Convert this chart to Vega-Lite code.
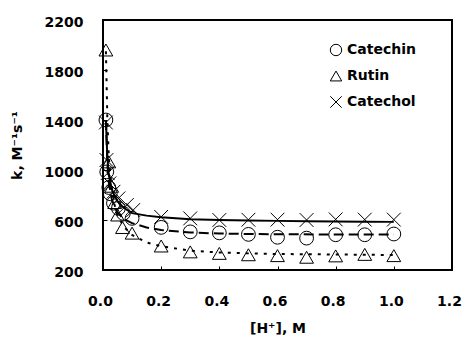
{
  "$schema": "https://vega.github.io/schema/vega-lite/v6.json",
  "autosize": "none",
  "width": 349,
  "height": 250,
  "padding": {"left": 103, "top": 20, "right": 11, "bottom": 69},
  "background": "white",
  "config": {
    "font": "DejaVu Sans",
    "view": {"stroke": "black", "strokeWidth": 2},
    "axis": {
      "domain": false,
      "grid": false,
      "labelFlush": false,
      "labelFont": "DejaVu Sans",
      "labelFontWeight": "bold",
      "labelFontSize": 14,
      "labelColor": "black",
      "titleFont": "DejaVu Sans",
      "titleFontWeight": "bold",
      "titleFontSize": 14,
      "titleColor": "black",
      "tickColor": "black",
      "tickSize": -4,
      "tickWidth": 1
    },
    "legend": {
      "labelFont": "DejaVu Sans",
      "labelFontWeight": "bold",
      "labelFontSize": 14,
      "labelColor": "black"
    }
  },
  "datasets": {
    "points": [
      {"series": "Catechin", "x": 0.01, "k": 1400},
      {"series": "Catechin", "x": 0.013, "k": 985},
      {"series": "Catechin", "x": 0.02, "k": 860},
      {"series": "Catechin", "x": 0.025, "k": 810},
      {"series": "Catechin", "x": 0.036, "k": 735},
      {"series": "Catechin", "x": 0.053, "k": 693},
      {"series": "Catechin", "x": 0.07, "k": 653},
      {"series": "Catechin", "x": 0.1, "k": 613},
      {"series": "Catechin", "x": 0.2, "k": 541},
      {"series": "Catechin", "x": 0.3, "k": 505},
      {"series": "Catechin", "x": 0.4, "k": 497},
      {"series": "Catechin", "x": 0.5, "k": 485},
      {"series": "Catechin", "x": 0.6, "k": 462},
      {"series": "Catechin", "x": 0.7, "k": 455},
      {"series": "Catechin", "x": 0.8, "k": 482},
      {"series": "Catechin", "x": 0.9, "k": 482},
      {"series": "Catechin", "x": 1.0, "k": 488},
      {"series": "Rutin", "x": 0.01, "k": 1960},
      {"series": "Rutin", "x": 0.02, "k": 1065},
      {"series": "Rutin", "x": 0.03, "k": 870},
      {"series": "Rutin", "x": 0.04, "k": 740},
      {"series": "Rutin", "x": 0.05, "k": 640},
      {"series": "Rutin", "x": 0.067, "k": 540},
      {"series": "Rutin", "x": 0.1, "k": 495},
      {"series": "Rutin", "x": 0.2, "k": 392},
      {"series": "Rutin", "x": 0.3, "k": 345},
      {"series": "Rutin", "x": 0.4, "k": 333},
      {"series": "Rutin", "x": 0.5, "k": 322},
      {"series": "Rutin", "x": 0.6, "k": 315},
      {"series": "Rutin", "x": 0.7, "k": 302},
      {"series": "Rutin", "x": 0.8, "k": 313},
      {"series": "Rutin", "x": 0.9, "k": 325},
      {"series": "Rutin", "x": 1.0, "k": 315},
      {"series": "Catechol", "x": 0.01, "k": 1380},
      {"series": "Catechol", "x": 0.012, "k": 1080},
      {"series": "Catechol", "x": 0.016, "k": 975},
      {"series": "Catechol", "x": 0.022, "k": 893},
      {"series": "Catechol", "x": 0.036, "k": 826},
      {"series": "Catechol", "x": 0.053, "k": 773},
      {"series": "Catechol", "x": 0.082, "k": 720},
      {"series": "Catechol", "x": 0.104, "k": 680},
      {"series": "Catechol", "x": 0.2, "k": 625},
      {"series": "Catechol", "x": 0.3, "k": 613},
      {"series": "Catechol", "x": 0.4, "k": 600},
      {"series": "Catechol", "x": 0.5, "k": 602},
      {"series": "Catechol", "x": 0.6, "k": 603},
      {"series": "Catechol", "x": 0.7, "k": 600},
      {"series": "Catechol", "x": 0.8, "k": 605},
      {"series": "Catechol", "x": 0.9, "k": 603},
      {"series": "Catechol", "x": 1.0, "k": 603}
    ],
    "fits": [
      {"series": "Catechin", "x": 0.01, "k": 1400},
      {"series": "Catechin", "x": 0.015, "k": 1050},
      {"series": "Catechin", "x": 0.02, "k": 900},
      {"series": "Catechin", "x": 0.03, "k": 770},
      {"series": "Catechin", "x": 0.04, "k": 700},
      {"series": "Catechin", "x": 0.05, "k": 660},
      {"series": "Catechin", "x": 0.07, "k": 610},
      {"series": "Catechin", "x": 0.1, "k": 575},
      {"series": "Catechin", "x": 0.15, "k": 540},
      {"series": "Catechin", "x": 0.2, "k": 520},
      {"series": "Catechin", "x": 0.3, "k": 500},
      {"series": "Catechin", "x": 0.4, "k": 492},
      {"series": "Catechin", "x": 0.5, "k": 488},
      {"series": "Catechin", "x": 0.6, "k": 486},
      {"series": "Catechin", "x": 0.8, "k": 484},
      {"series": "Catechin", "x": 1.0, "k": 483},
      {"series": "Rutin", "x": 0.01, "k": 1950},
      {"series": "Rutin", "x": 0.015, "k": 1400},
      {"series": "Rutin", "x": 0.02, "k": 1100},
      {"series": "Rutin", "x": 0.03, "k": 850},
      {"series": "Rutin", "x": 0.04, "k": 720},
      {"series": "Rutin", "x": 0.05, "k": 640},
      {"series": "Rutin", "x": 0.07, "k": 550},
      {"series": "Rutin", "x": 0.1, "k": 480},
      {"series": "Rutin", "x": 0.15, "k": 420},
      {"series": "Rutin", "x": 0.2, "k": 390},
      {"series": "Rutin", "x": 0.3, "k": 355},
      {"series": "Rutin", "x": 0.4, "k": 340},
      {"series": "Rutin", "x": 0.5, "k": 333},
      {"series": "Rutin", "x": 0.6, "k": 328},
      {"series": "Rutin", "x": 0.8, "k": 324},
      {"series": "Rutin", "x": 1.0, "k": 320},
      {"series": "Catechol", "x": 0.01, "k": 1400},
      {"series": "Catechol", "x": 0.015, "k": 1100},
      {"series": "Catechol", "x": 0.02, "k": 960},
      {"series": "Catechol", "x": 0.03, "k": 850},
      {"series": "Catechol", "x": 0.04, "k": 790},
      {"series": "Catechol", "x": 0.05, "k": 750},
      {"series": "Catechol", "x": 0.07, "k": 700},
      {"series": "Catechol", "x": 0.1, "k": 655},
      {"series": "Catechol", "x": 0.15, "k": 635},
      {"series": "Catechol", "x": 0.2, "k": 622},
      {"series": "Catechol", "x": 0.3, "k": 606},
      {"series": "Catechol", "x": 0.4, "k": 600},
      {"series": "Catechol", "x": 0.5, "k": 596},
      {"series": "Catechol", "x": 0.6, "k": 593},
      {"series": "Catechol", "x": 0.7, "k": 590},
      {"series": "Catechol", "x": 0.8, "k": 588},
      {"series": "Catechol", "x": 0.9, "k": 586},
      {"series": "Catechol", "x": 1.0, "k": 585}
    ]
  },
  "encoding": {
    "x": {
      "field": "x",
      "type": "quantitative",
      "scale": {"domain": [0, 1.2], "nice": false, "zero": false},
      "axis": {
        "values": [0, 0.2, 0.4, 0.6, 0.8, 1.0, 1.2],
        "format": ".1f",
        "labelPadding": 28,
        "labelOffset": -3,
        "title": "[H⁺], M",
        "titleX": 174.5,
        "titleY": 58,
        "titleBaseline": "middle"
      }
    },
    "y": {
      "field": "k",
      "type": "quantitative",
      "scale": {"domain": [200, 2200], "nice": false, "zero": false},
      "axis": {
        "values": [200, 600, 1000, 1400, 1800, 2200],
        "format": "d",
        "labelPadding": 24,
        "labelOffset": 2,
        "title": "k, M⁻¹s⁻¹",
        "titleX": -86,
        "titleY": 125,
        "titleBaseline": "middle",
        "titleAngle": -90
      }
    }
  },
  "layer": [
    {
      "data": {"name": "fits"},
      "transform": [{"filter": "datum.series === 'Catechin'"}],
      "mark": {"type": "line", "color": "black", "strokeWidth": 2, "strokeDash": [10, 5]}
    },
    {
      "data": {"name": "fits"},
      "transform": [{"filter": "datum.series === 'Rutin'"}],
      "mark": {"type": "line", "color": "black", "strokeWidth": 2, "strokeDash": [3, 6]}
    },
    {
      "data": {"name": "fits"},
      "transform": [{"filter": "datum.series === 'Catechol'"}],
      "mark": {"type": "line", "color": "black", "strokeWidth": 2}
    },
    {
      "data": {"name": "points"},
      "mark": {"type": "point", "filled": false, "stroke": "black", "strokeWidth": 1, "size": 190, "opacity": 1},
      "encoding": {
        "shape": {
          "field": "series",
          "type": "nominal",
          "scale": {"domain": ["Catechin", "Rutin", "Catechol"], "range": ["circle", "triangle-up", "M-1,-1L1,1M-1,1L1,-1"]},
          "legend": {
            "title": null,
            "orient": "none",
            "legendX": 226,
            "legendY": 23,
            "symbolSize": 130,
            "symbolStrokeColor": "black",
            "symbolStrokeWidth": 1,
            "symbolFillColor": "transparent",
            "rowPadding": 11,
            "labelOffset": 4
          }
        }
      }
    }
  ]
}
